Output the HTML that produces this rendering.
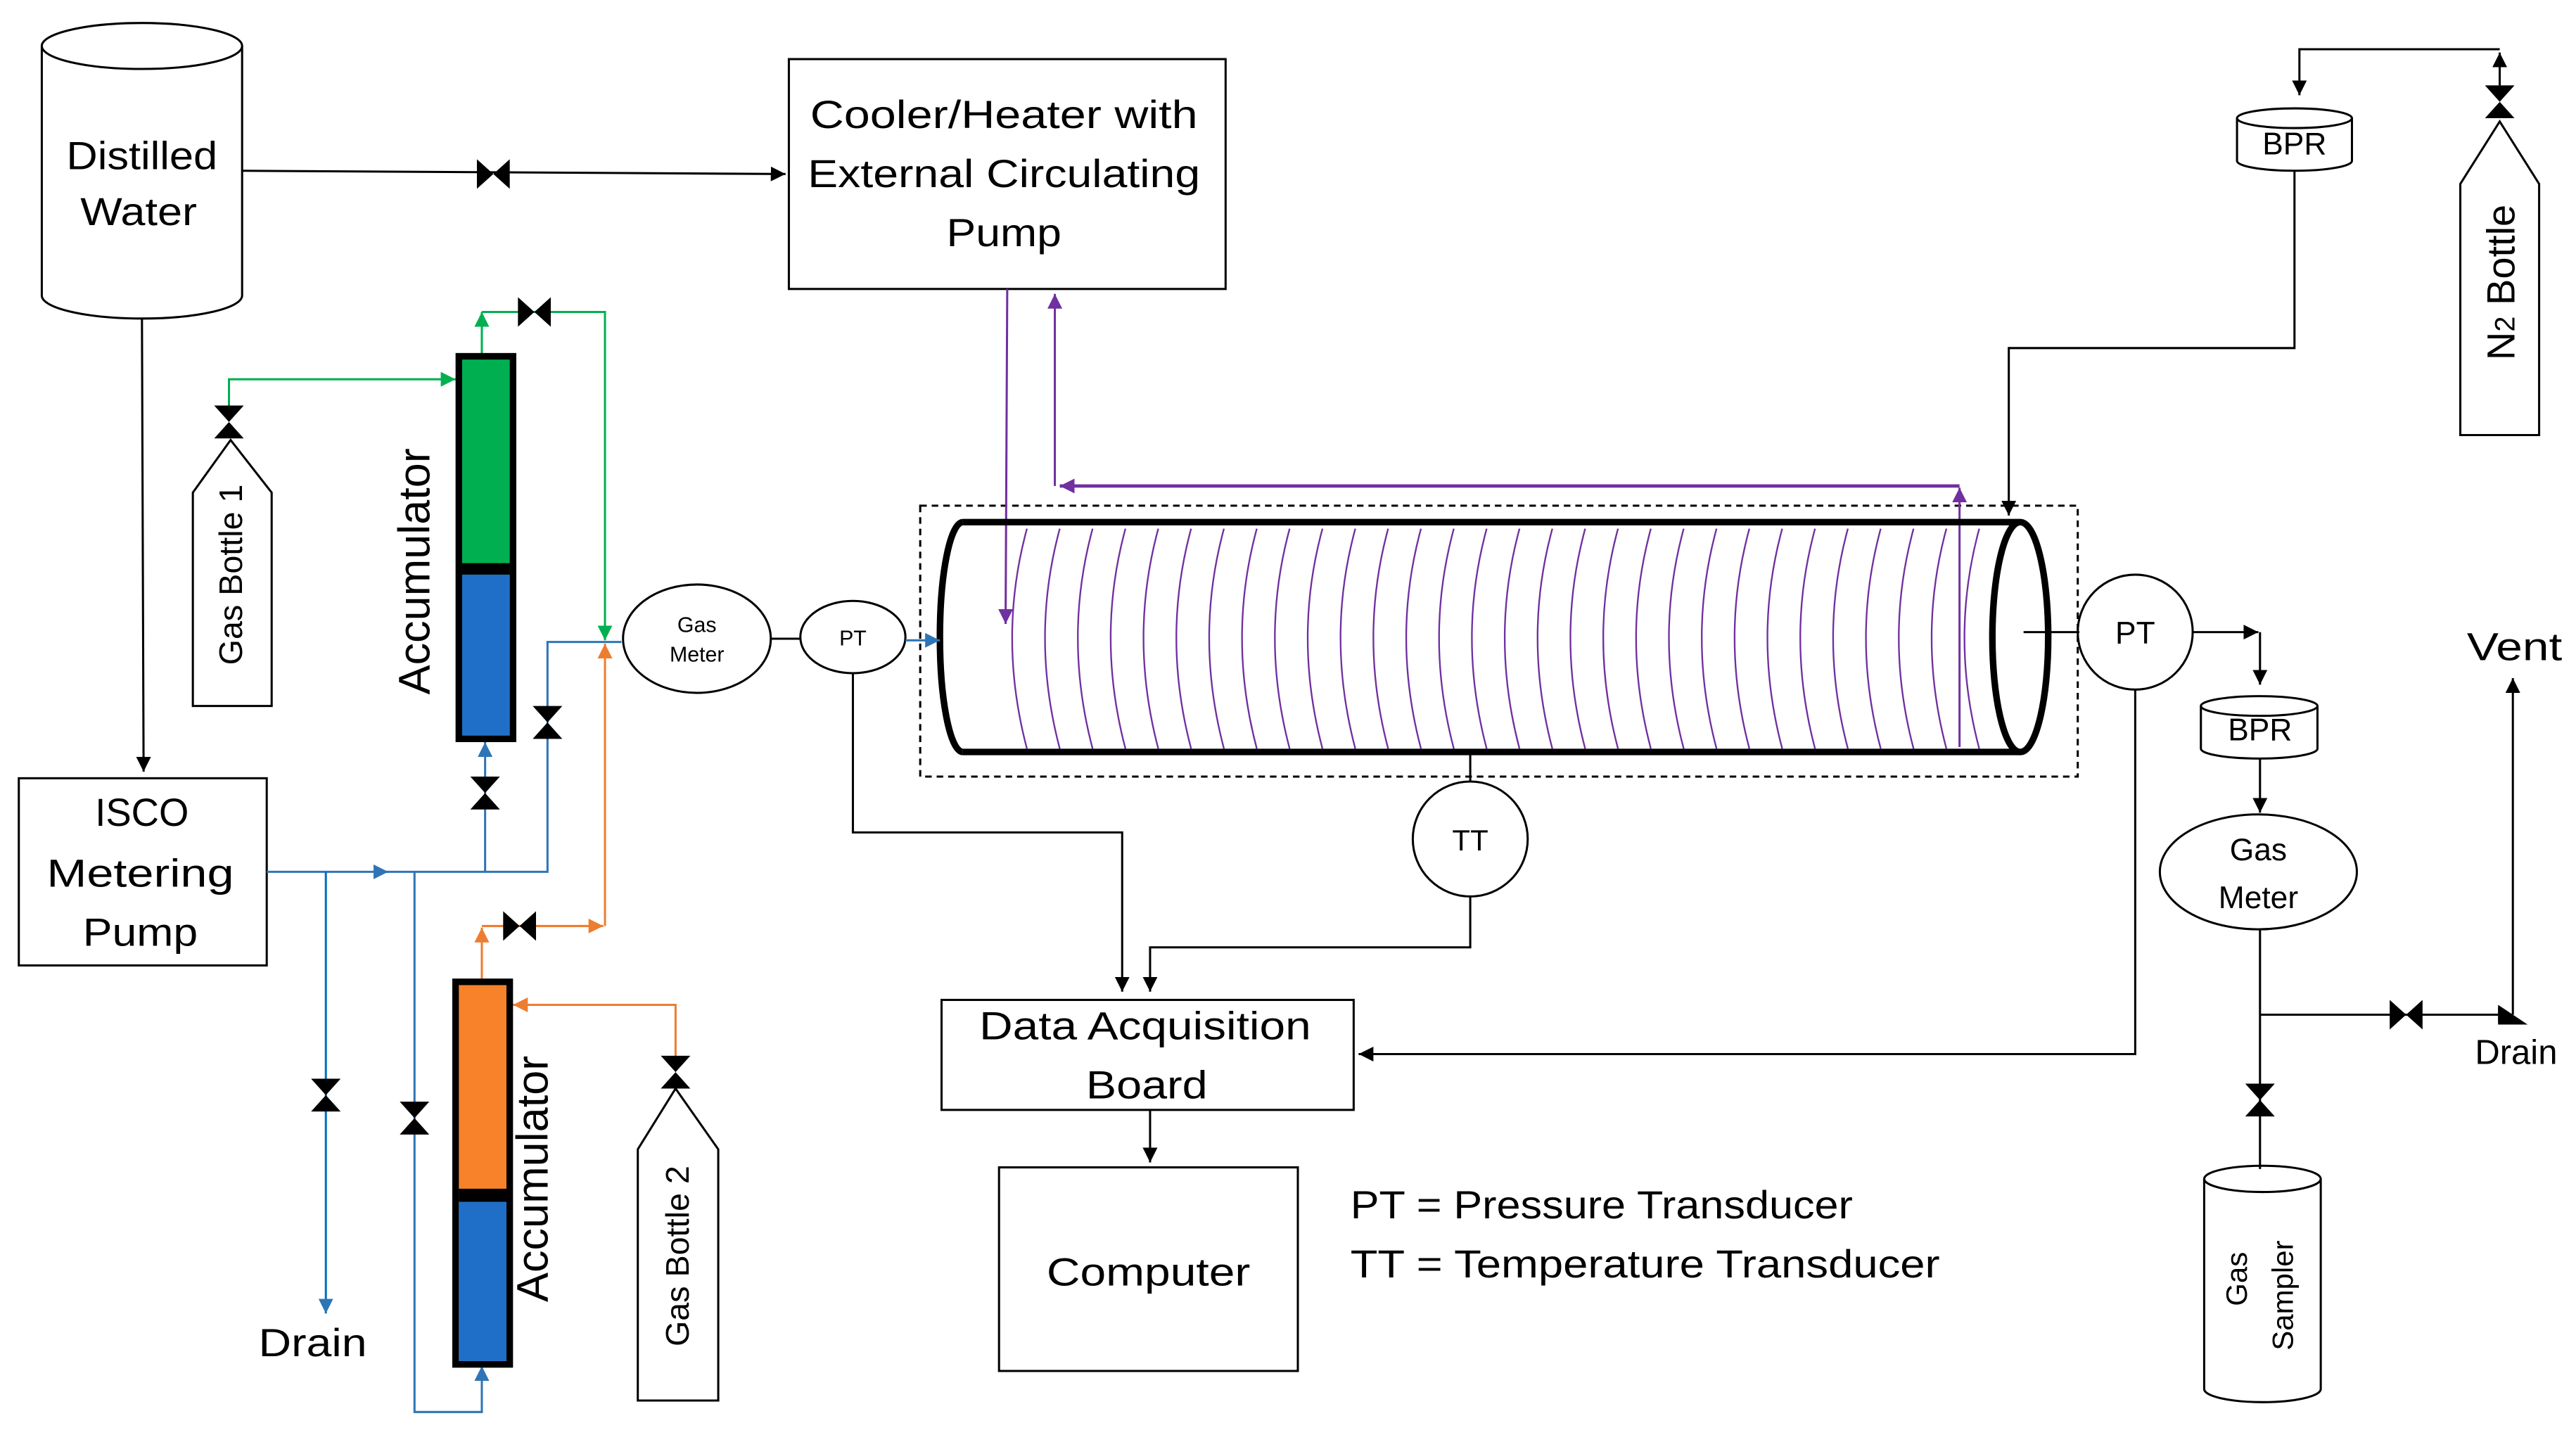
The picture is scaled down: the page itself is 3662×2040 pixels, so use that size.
<!DOCTYPE html>
<html><head><meta charset="utf-8"><style>html,body{margin:0;padding:0;background:#fff}svg{display:block}</style></head>
<body>
<svg width="3662" height="2040" viewBox="0 0 1568 874" xmlns="http://www.w3.org/2000/svg" font-family="Liberation Sans, sans-serif">
<defs>
<marker id="ak" viewBox="0 0 10 10" refX="10" refY="5" markerWidth="9" markerHeight="9" markerUnits="userSpaceOnUse" orient="auto"><path d="M0,0L10,5L0,10z" fill="#000"/></marker>
<marker id="ab" viewBox="0 0 10 10" refX="10" refY="5" markerWidth="9" markerHeight="9" markerUnits="userSpaceOnUse" orient="auto"><path d="M0,0L10,5L0,10z" fill="#2e75b6"/></marker>
<marker id="ag" viewBox="0 0 10 10" refX="10" refY="5" markerWidth="9" markerHeight="9" markerUnits="userSpaceOnUse" orient="auto"><path d="M0,0L10,5L0,10z" fill="#00b050"/></marker>
<marker id="ao" viewBox="0 0 10 10" refX="10" refY="5" markerWidth="9" markerHeight="9" markerUnits="userSpaceOnUse" orient="auto"><path d="M0,0L10,5L0,10z" fill="#ed7d31"/></marker>
<marker id="ap" viewBox="0 0 10 10" refX="10" refY="5" markerWidth="9" markerHeight="9" markerUnits="userSpaceOnUse" orient="auto"><path d="M0,0L10,5L0,10z" fill="#7030a0"/></marker>
<g id="vv"><path d="M-9,-10L9,-10L0,0z M-9,10L9,10L0,0z" fill="#000"/></g>
<g id="vh"><path d="M-10,-9L-10,9L0,0z M10,-9L10,9L0,0z" fill="#000"/></g>
</defs>
<g fill="none" stroke="#000" stroke-width="1.3">
<path d="M25,28 V180 A61,14 0 0 0 147,180 V28"/>
<ellipse cx="86" cy="28" rx="61" ry="14"/>
<path d="M147,104 L478,106" marker-end="url(#ak)"/>
<path d="M86,194 L87,470" marker-end="url(#ak)"/>
<rect x="480" y="36" width="266" height="140"/>
<rect x="11" y="474" width="151" height="114"/>
<path d="M117,430 V300 L140,268 L165,300 V430 Z"/>
<path d="M388,853 V700 L411,663 L437,700 V853 Z"/>
<path d="M1498,265 V112 L1522,74 L1546,112 V265 Z"/>
<ellipse cx="424" cy="389" rx="45" ry="33"/>
<ellipse cx="519" cy="388" rx="32" ry="22"/>
<path d="M469,389 H487"/>
<ellipse cx="1300" cy="385" rx="35" ry="35"/>
<circle cx="895" cy="511" r="35"/>
<ellipse cx="1375" cy="531" rx="60" ry="35"/>
<path d="M1362,72 V98 A35,6 0 0 0 1432,98 V72"/><ellipse cx="1397" cy="72" rx="35" ry="6"/>
<path d="M1340,430 V456 A35.5,6 0 0 0 1411,456 V430"/><ellipse cx="1375.5" cy="430" rx="35.5" ry="6"/>
<path d="M1342,718 V846 A35.5,8 0 0 0 1413,846 V718"/><ellipse cx="1377.5" cy="718" rx="35.5" ry="8"/>
<rect x="560" y="308" width="705" height="165" stroke-dasharray="4,3"/>
<rect x="573" y="609" width="251" height="67"/>
<rect x="608" y="711" width="182" height="124"/>
<path d="M1397,104 V212 H1223 V314" marker-end="url(#ak)"/>
<path d="M1522,30 H1400 V58" marker-end="url(#ak)"/>
<path d="M1522,52 V32" marker-end="url(#ak)"/>
<path d="M1232,385 H1266"/>
<path d="M1335,385 H1375" marker-end="url(#ak)"/>
<path d="M1376,385 V417" marker-end="url(#ak)"/>
<path d="M1376,462 V495" marker-end="url(#ak)"/>
<path d="M1376,566 V712"/>
<path d="M1376,618 H1530" marker-end="url(#ak)"/>
<path d="M1530,618 V413" marker-end="url(#ak)"/>
<path d="M1300,420 V642 H827" marker-end="url(#ak)"/>
<path d="M519,410 V507 H683 V604" marker-end="url(#ak)"/>
<path d="M895,458 V476"/>
<path d="M895,546 V577 H700 V604" marker-end="url(#ak)"/>
<path d="M700,676 V708" marker-end="url(#ak)"/>
</g>
<g fill="none" stroke="#7030a0" stroke-width="1">
<path d="M625,322 Q607,388 625,456"/><path d="M645,322 Q627,388 645,456"/><path d="M665,322 Q647,388 665,456"/><path d="M685,322 Q667,388 685,456"/><path d="M705,322 Q687,388 705,456"/><path d="M725,322 Q707,388 725,456"/><path d="M745,322 Q727,388 745,456"/><path d="M765,322 Q747,388 765,456"/><path d="M785,322 Q767,388 785,456"/><path d="M805,322 Q787,388 805,456"/><path d="M825,322 Q807,388 825,456"/><path d="M845,322 Q827,388 845,456"/><path d="M865,322 Q847,388 865,456"/><path d="M885,322 Q867,388 885,456"/><path d="M905,322 Q887,388 905,456"/><path d="M925,322 Q907,388 925,456"/><path d="M945,322 Q927,388 945,456"/><path d="M965,322 Q947,388 965,456"/><path d="M985,322 Q967,388 985,456"/><path d="M1005,322 Q987,388 1005,456"/><path d="M1025,322 Q1007,388 1025,456"/><path d="M1045,322 Q1027,388 1045,456"/><path d="M1065,322 Q1047,388 1065,456"/><path d="M1085,322 Q1067,388 1085,456"/><path d="M1105,322 Q1087,388 1105,456"/><path d="M1125,322 Q1107,388 1125,456"/><path d="M1145,322 Q1127,388 1145,456"/><path d="M1165,322 Q1147,388 1165,456"/><path d="M1185,322 Q1167,388 1185,456"/><path d="M1205,322 Q1187,388 1205,456"/>
<path d="M613,176 L612,380" stroke-width="1.3" marker-end="url(#ap)"/>
<path d="M1193,455 V297" stroke-width="1.3" marker-end="url(#ap)"/>
<path d="M1193,296 H645" stroke-width="2" marker-end="url(#ap)"/>
<path d="M642,296 V179" stroke-width="1.3" marker-end="url(#ap)"/>
</g>
<g fill="none" stroke="#000" stroke-width="4">
<path d="M586,318 H1230 M586,458 H1230"/>
<path d="M586,318 A14,70 0 0 0 586,458"/>
<ellipse cx="1230" cy="388" rx="17" ry="70"/>
</g>
<g fill="none" stroke="#2e75b6" stroke-width="1.3">
<path d="M551,390 H572" marker-end="url(#ab)"/>
<path d="M162,531 H236" marker-end="url(#ab)"/>
<path d="M230,531 H333 V391 H378"/>
<path d="M198,531 V800" stroke="#0070c0" marker-end="url(#ab)"/>
<path d="M252,531 V860 H293 V832" marker-end="url(#ab)"/>
<path d="M295,531 V452" marker-end="url(#ab)"/>
</g>
<g fill="none" stroke="#00b050" stroke-width="1.3">
<path d="M293,216 V190" marker-end="url(#ag)"/>
<path d="M293,190 H368 V390" marker-end="url(#ag)"/>
<path d="M139,248 V231 H277" marker-end="url(#ag)"/>
</g>
<g fill="none" stroke="#ed7d31" stroke-width="1.3">
<path d="M293,597 V565" marker-end="url(#ao)"/>
<path d="M293,564 H367" marker-end="url(#ao)"/>
<path d="M368,564 V392" marker-end="url(#ao)"/>
<path d="M411,644 V612 H312" marker-end="url(#ao)"/>
</g>
<rect x="279" y="217" width="33" height="233" fill="#00b050" stroke="#000" stroke-width="4"/>
<rect x="281" y="343" width="29" height="7" fill="#000"/>
<rect x="281" y="350" width="29" height="98" fill="#1f6fc8"/>
<rect x="277" y="598" width="33" height="233" fill="#f7822a" stroke="#000" stroke-width="4"/>
<rect x="279" y="724" width="29" height="8" fill="#000"/>
<rect x="279" y="732" width="29" height="97" fill="#1f6fc8"/>
<use href="#vh" x="300" y="106"/><use href="#vh" x="325" y="190"/><use href="#vh" x="316" y="564"/>
<use href="#vh" x="1465" y="618"/>
<use href="#vv" x="139" y="257"/><use href="#vv" x="333" y="440"/><use href="#vv" x="295" y="483"/>
<use href="#vv" x="198" y="667"/><use href="#vv" x="252" y="681"/><use href="#vv" x="411" y="653"/>
<use href="#vv" x="1522" y="62"/><use href="#vv" x="1376" y="670"/>
<path d="M1521,612 L1539,624 L1521,624z" fill="#000"/>
<g fill="#000" font-size="24" text-anchor="middle" lengthAdjust="spacingAndGlyphs">
<text x="86" y="103" textLength="92" lengthAdjust="spacingAndGlyphs">Distilled</text><text x="84" y="137" textLength="71" lengthAdjust="spacingAndGlyphs">Water</text>
<text x="611" y="78" textLength="236" lengthAdjust="spacingAndGlyphs">Cooler/Heater with</text><text x="611" y="114" textLength="239" lengthAdjust="spacingAndGlyphs">External Circulating</text><text x="611" y="150" textLength="70" lengthAdjust="spacingAndGlyphs">Pump</text>
<text x="86" y="503" textLength="57" lengthAdjust="spacingAndGlyphs">ISCO</text><text x="85" y="540" textLength="114" lengthAdjust="spacingAndGlyphs">Metering</text><text x="85" y="576" textLength="70" lengthAdjust="spacingAndGlyphs">Pump</text>
<text x="190" y="826" textLength="66" lengthAdjust="spacingAndGlyphs">Drain</text>
<text x="697" y="633" textLength="202" lengthAdjust="spacingAndGlyphs">Data Acquisition</text><text x="698" y="669" textLength="74" lengthAdjust="spacingAndGlyphs">Board</text>
<text x="699" y="783" textLength="124" lengthAdjust="spacingAndGlyphs">Computer</text>
<text x="1531" y="402" textLength="58" lengthAdjust="spacingAndGlyphs">Vent</text>
<text x="1532" y="648" font-size="21">Drain</text>
<text x="895" y="518" font-size="18">TT</text>
<text x="1300" y="392" font-size="19">PT</text>
<text x="519" y="393" font-size="13">PT</text>
<text x="424" y="385" font-size="13">Gas</text><text x="424" y="403" font-size="13">Meter</text>
<text x="1375" y="524" font-size="19">Gas</text><text x="1375" y="553" font-size="19">Meter</text>
<text x="1397" y="94" font-size="19">BPR</text>
<text x="1376" y="451" font-size="19">BPR</text>
<text text-anchor="start" x="822" y="742" textLength="306" lengthAdjust="spacingAndGlyphs">PT = Pressure Transducer</text>
<text text-anchor="start" x="822" y="778" textLength="359" lengthAdjust="spacingAndGlyphs">TT = Temperature Transducer</text>
<text transform="translate(261,348) rotate(-90)" font-size="27">Accumulator</text>
<text transform="translate(333,718) rotate(-90)" font-size="27">Accumulator</text>
<text transform="translate(147,350) rotate(-90)" font-size="20">Gas Bottle 1</text>
<text transform="translate(419,765) rotate(-90)" font-size="20">Gas Bottle 2</text>
<text transform="translate(1531,172) rotate(-90)" font-size="24">N<tspan font-size="17">2</tspan> Bottle</text>
<text transform="translate(1368,779) rotate(-90)" font-size="18">Gas</text>
<text transform="translate(1396,789) rotate(-90)" font-size="18">Sampler</text>
</g>
</svg>
</body></html>
